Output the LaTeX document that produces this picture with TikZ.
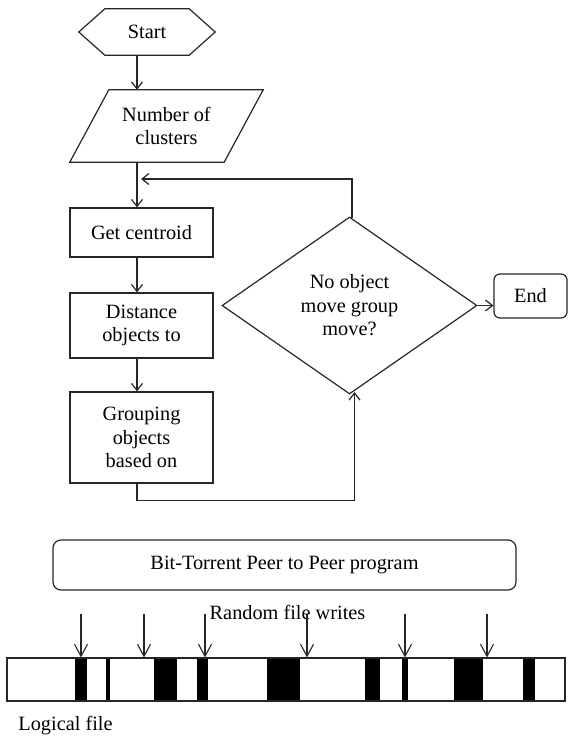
\documentclass[tikz,border=0pt]{standalone}
\usepackage{fontspec}
\setmainfont{Liberation Serif}
\usetikzlibrary{shapes.geometric,arrows.meta}
\begin{document}
\begin{tikzpicture}[x=1pt,y=-1pt,
  every node/.style={font=\fontsize{20.3}{23.5}\selectfont, text=black, align=center},
  ln/.style={draw=black!85, line width=1.2pt},
  flow/.style={ln, -{Straight Barb[length=7pt,width=11pt]}},
  wr/.style={ln, line width=1.1pt, -{Straight Barb[length=12pt,width=13pt]}},
  box/.style={ln, rectangle, minimum width=143pt, inner sep=0pt},
  frame/.style={minimum width=#1, inner sep=0pt}
]
\useasboundingbox (0,0) rectangle (568,736);

% ---------- k-means flowchart ----------
\coordinate (spine) at (137,0);

% start terminal (hexagon)
\node[frame=136pt, minimum height=46pt] (start) at (147,32) {Start};
\draw[ln] (start.west) -- ([xshift=26pt]start.north west) -- ([xshift=-26pt]start.north east)
  -- (start.east) -- ([xshift=-26pt]start.south east) -- ([xshift=26pt]start.south west) -- cycle;

% input (parallelogram)
\node[frame=193pt, minimum height=72pt] (ncl) at (166.5,126) {Number of\\clusters};
\draw[ln] (ncl.south west) -- ([xshift=-39pt]ncl.south east) -- (ncl.north east)
  -- ([xshift=39pt]ncl.north west) -- cycle;

% process steps
\node[box, minimum height=49pt] (gc) at (141.5,232.5) {Get centroid};
\node[box, minimum height=65pt] (dist) at (141.5,325.5) {Distance\\objects to};
\node[box, minimum height=91pt] (grp) at (141.5,437.5) {Grouping\\objects\\based on};

% decision
\node[ln, diamond, minimum width=255pt, minimum height=177pt, inner sep=0pt] (dia) at (349.5,305.5)
  {No object\\move group\\move?};

% end terminal
\node[ln, rounded corners=6pt, minimum width=73pt, minimum height=44pt, inner sep=0pt] (endn) at (530.5,296) {End};

% connectors
\draw[flow] (start.south -| spine) -- (ncl.north -| spine);
\draw[flow] (ncl.south -| spine) -- (gc.north -| spine);
\draw[flow] (gc.south -| spine) -- (dist.north -| spine);
\draw[flow] (dist.south -| spine) -- (grp.north -| spine);
\coordinate (ret) at (141,179);
\draw[flow] ([xshift=2.5pt,yshift=-2pt]dia.north) |- (ret);
\draw[flow] (grp.south -| spine) -- ++(0,17) -| ([xshift=5pt,yshift=2.5pt]dia.south);
\draw[flow] (dia.east) -- (dia.east -| endn.west);

% ---------- random writes into a logical file ----------
\node[ln, rounded corners=8pt, minimum width=463pt, minimum height=50pt, inner sep=0pt] (bt) at (284.5,565)
  {Bit-Torrent Peer to Peer program};

\node (rfw) at (287.5,612) {Random file writes};

% written blocks
\foreach \a/\b in {75/87, 106/110, 154/177, 197/208, 267/300, 365/380, 402/408, 454/483, 523/535}
  \fill[black] (\a,658) rectangle (\b,701);
\node[ln, rectangle, minimum width=558pt, minimum height=43pt, inner sep=0pt] (bar) at (286,679.5) {};

% write arrows
\foreach \i/\x in {1/81, 2/144, 3/205, 4/307, 5/405, 6/487}
  \coordinate (w\i) at (\x,614);
\foreach \i in {1,...,6}
  \draw[wr] (w\i) -- (w\i |- bar.north);

\node (lf) at (65.5,726) {Logical file};
\end{tikzpicture}
\end{document}
